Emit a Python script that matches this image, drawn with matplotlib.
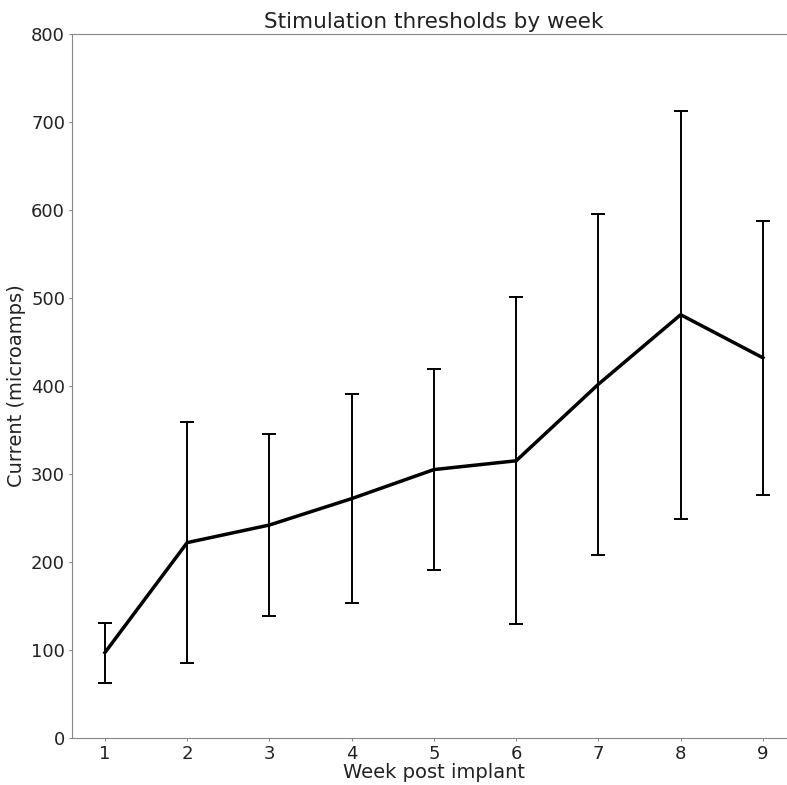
import matplotlib
matplotlib.use("Agg")
import matplotlib.pyplot as plt

# weekly mean threshold and standard deviation
weeks = [1, 2, 3, 4, 5, 6, 7, 8, 9]
mean_current = [97, 222, 242, 272, 305, 315, 402, 481, 432]
sd_current = [34, 137, 103, 119, 114, 186, 194, 232, 156]

fig = plt.figure(figsize=(7.87, 7.85), dpi=100)
ax = fig.add_axes([0.0915, 0.0599, 0.9197, 0.8968])

ax.errorbar(weeks, mean_current, yerr=sd_current, color="black",
            linewidth=2.5, elinewidth=1.4, capsize=5, capthick=1.4)

ax.set_xlim(0.6, 9.4)
ax.set_ylim(0, 800)
ax.set_xticks(weeks)
ax.set_yticks(range(0, 801, 100))

for side in ax.spines.values():
    side.set_color("#888888")
ax.tick_params(colors="#888888", labelcolor="#222222", labelsize=13,
               length=2.5, pad=2.5)

ax.set_title("Stimulation thresholds by week", fontsize=15.5, color="#222222", pad=4)
ax.set_xlabel("Week post implant", fontsize=14, color="#222222", labelpad=0)
ax.set_ylabel("Current (microamps)", fontsize=14, color="#222222", labelpad=4)

fig.savefig("out.png", dpi=100)
